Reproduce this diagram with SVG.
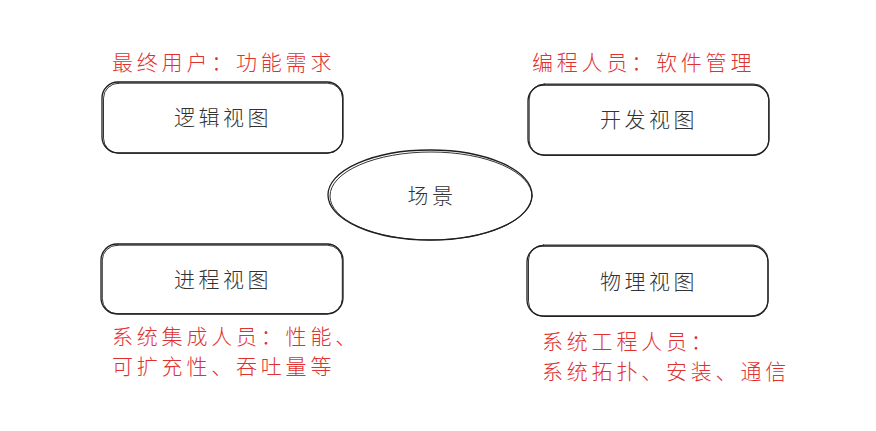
<svg xmlns="http://www.w3.org/2000/svg" width="876" height="431" viewBox="0 0 876 431">
<style>
.box{fill:none;stroke:#1e1e1e;stroke-width:1.3;stroke-linecap:round}
.box2{fill:none;stroke:#1e1e1e;stroke-width:0.9;stroke-linecap:round}
.t{font-family:"Noto Sans CJK SC",sans-serif;font-size:21px;font-weight:300;fill:#333;text-anchor:middle;letter-spacing:3.5px}
.r{font-family:"Noto Sans CJK SC",sans-serif;font-size:21px;font-weight:300;fill:#e03131;letter-spacing:3.8px}
</style>
<rect width="876" height="431" fill="#fff"/>
<g id="logic">
<rect class="box" x="102" y="82" width="241" height="71" rx="16"/>
<rect class="box2" x="103.5" y="83.2" width="239" height="70" rx="15"/>
<text class="t" x="223" y="125">逻辑视图</text>
</g>
<g id="dev">
<rect class="box" x="528" y="85" width="241" height="70" rx="16"/>
<rect class="box2" x="529.2" y="84" width="239.5" height="71.5" rx="15"/>
<text class="t" x="649" y="127">开发视图</text>
</g>
<g id="process">
<rect class="box" x="101" y="244" width="242" height="70" rx="16"/>
<rect class="box2" x="102.3" y="245.2" width="240" height="68.5" rx="15"/>
<text class="t" x="223" y="287">进程视图</text>
</g>
<g id="physical">
<rect class="box" x="527" y="246" width="241" height="70" rx="16"/>
<rect class="box2" x="528.5" y="245" width="239.5" height="71.5" rx="15"/>
<text class="t" x="649" y="289">物理视图</text>
</g>
<g id="scene">
<ellipse class="box" cx="430" cy="195" rx="102" ry="45"/>
<ellipse class="box2" cx="431" cy="196" rx="101" ry="44"/>
<text class="t" x="432" y="203">场景</text>
</g>
<g id="labels">
<text class="r" x="112" y="70">最终用户：功能需求</text>
<text class="r" x="532" y="70">编程人员：软件管理</text>
<text class="r" x="112" y="344">系统集成人员：性能、</text>
<text class="r" x="112" y="374">可扩充性、吞吐量等</text>
<text class="r" x="542" y="349">系统工程人员：</text>
<text class="r" x="542" y="379">系统拓扑、安装、通信</text>
</g>
<g id="connectors"></g>
</svg>
